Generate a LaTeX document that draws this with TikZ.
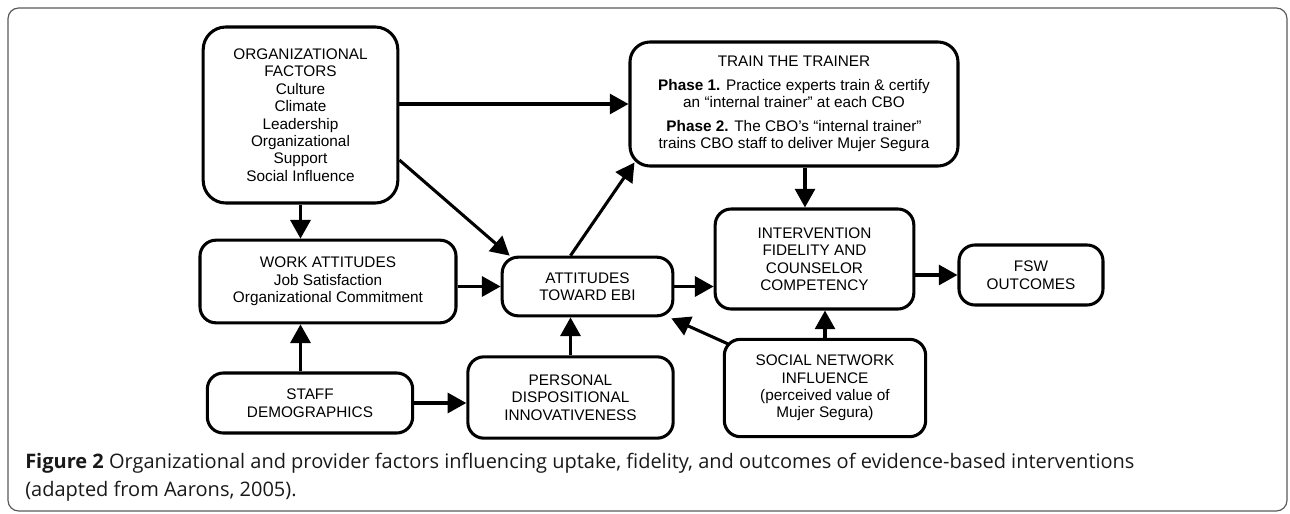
\documentclass[tikz,border=0pt]{standalone}
\usepackage{fontspec}
\setmainfont{Liberation Sans}
\newfontfamily\capfont{Open Sans}
\usetikzlibrary{arrows.meta}
\usetikzlibrary{calc}
\tikzset{box/.style={draw, line width=2.3pt, rounded corners=12pt, align=center,
      inner sep=0pt, font=\fontsize{11.5}{13.1}\selectfont}}
\tikzset{conn/.style={line width=2.3pt, -{Triangle[length=14pt,width=15pt]}}}
\tikzset{captxt/.style={anchor=base west, inner sep=0pt, text=black!90,
      font=\capfont\fontsize{15}{18}\selectfont}}

\begin{document}
\begin{tikzpicture}[x=0.75pt,y=-0.75pt]
		\useasboundingbox (0,0) rectangle (1290,514);
		\draw[black!65, line width=0.9pt, rounded corners=8pt] (8,8) rectangle (1287,511);
		% boxes
		\node[box, rounded corners=17pt, minimum width=146pt, minimum height=132pt] (org) at (300.5,115)
			{ORGANIZATIONAL\\FACTORS\\Culture\\Climate\\Leadership\\Organizational\\Support\\Social Influence};
		\node[box, rounded corners=15pt, minimum width=246pt, minimum height=93pt] (train) at (794,104)
			{TRAIN THE TRAINER\\[4.5pt]
			\textbf{Phase 1.} Practice experts train \& certify\\
			an “internal trainer” at each CBO\\[4.5pt]
			\textbf{Phase 2.} The CBO’s “internal trainer”\\
			trains CBO staff to deliver Mujer Segura};
		\node[box, minimum width=192pt, minimum height=62pt] (work) at (328,281.5)
			{WORK ATTITUDES\\Job Satisfaction\\Organizational Commitment};
		\node[box, minimum width=128pt, minimum height=44pt] (att) at (587.5,286.5)
			{ATTITUDES\\TOWARD EBI};
		\node[box, minimum width=149pt, minimum height=75pt] (fid) at (814.5,259)
			{INTERVENTION\\FIDELITY AND\\COUNSELOR\\COMPETENCY};
		\node[box, minimum width=108pt, minimum height=45pt] (fsw) at (1031,275)
			{FSW\\OUTCOMES};
		\node[box, minimum width=154pt, minimum height=45pt] (staff) at (310,403)
			{STAFF\\DEMOGRAPHICS};
		\node[box, minimum width=154pt, minimum height=61pt] (pers) at (570.5,397.5)
			{PERSONAL\\DISPOSITIONAL\\INNOVATIVENESS};
		\node[box, minimum width=151pt, minimum height=73pt] (snet) at (825,388)
			{SOCIAL NETWORK\\INFLUENCE\\(perceived value of\\Mujer Segura)};
		% connectors
		\draw[conn] (org.south) -- (org.south |- work.north);
		\draw[conn] (org.east |- train.west) -- (train.west);
		\draw[conn] ($(org.east)+(0,45)$) -- ($(att.north west)+(9,0)$);
		\draw[conn] ($(att.north)+(-17,0)$) -- ($(train.south west)+(6,-5)$);
		\draw[conn] (work.east |- att.west) -- (att.west);
		\draw[conn] (staff.north -| org.south) -- (work.south -| org.south);
		\draw[conn] (staff.east) -- (staff.east -| pers.west);
		\draw[conn] (pers.north) -- (pers.north |- att.south);
		\draw[conn] (att.east) -- (att.east -| fid.west);
		\draw[conn] ($(train.south)+(11,0)$) coordinate (tdown) -- (tdown |- fid.north);
		\draw[conn] (fid.east |- fsw.west) -- (fsw.west);
		\draw[conn] (snet.north) -- (snet.north |- fid.south);
		\draw[conn] ($(snet.north west)+(5,6)$) -- ($(att.south east)+(-3,1)$);
		% caption
		\node[captxt] (cap1) at (25,468) {\textbf{Figure 2} Organizational and provider factors influencing uptake, fidelity, and outcomes of evidence-based interventions};
		\node[captxt] (cap2) at (25,496) {(adapted from Aarons, 2005).};
\end{tikzpicture}
\end{document}
